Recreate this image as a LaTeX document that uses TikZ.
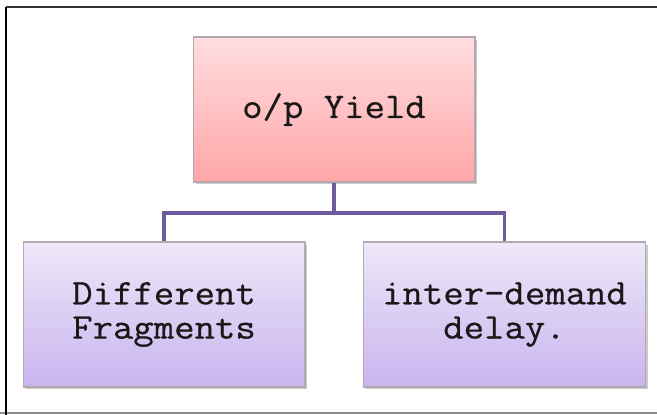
\documentclass[tikz,border=0pt]{standalone}
\usepackage{fontspec}
\newfontfamily\boxfont[FakeStretch=1.1, FakeBold=0.6]{Latin Modern Mono}
\usetikzlibrary{shadows}

\definecolor{pinktop}{HTML}{FFDDDF}
\definecolor{pinkbot}{HTML}{FFA6A8}
\definecolor{lilactop}{HTML}{EEE8F9}
\definecolor{lilacbot}{HTML}{C8B4EE}
\definecolor{linkcol}{HTML}{6F5A9E}
\definecolor{edgecol}{HTML}{B4A8AE}

\begin{document}
\begin{tikzpicture}[
    x=0.02cm, y=-0.02cm,
    box/.style={draw=edgecol, line width=0.6pt, minimum width=5.64cm, minimum height=2.9cm,
        align=center, text=black!90, font=\boxfont\fontsize{20.5}{19.5}\selectfont,
        drop shadow={shadow xshift=0.05cm, shadow yshift=-0.05cm, opacity=0.35, fill=black!60}},
    root/.style={box, top color=pinktop, bottom color=pinkbot},
    leaf/.style={box, top color=lilactop, bottom color=lilacbot},
    link/.style={draw=linkcol, line width=2.2pt}
    ]

    % page frame
    \useasboundingbox (0,0) rectangle (657,415);
    \draw [black!80, line width=1.2pt] (6,7) -- (657,7);
    \draw [black!45, line width=0.6pt] (0,413) -- (657,413);
    \draw [black, line width=1.3pt] (6,7) -- (6,415);

    % boxes
    \node[root] (yield) at (334,109.5) {o/p Yield};
    \node[leaf] (frag) at (164,314.5) {Different\\Fragments};
    \node[leaf] (delay) at (504.5,314.5) {inter-demand\\delay.};

    % branch lines
    \coordinate (bus) at (334,213);
    \draw [link] (yield.south) -- (bus) -| (frag.north);
    \draw [link] (bus) -| (delay.north);

\end{tikzpicture}
\end{document}
